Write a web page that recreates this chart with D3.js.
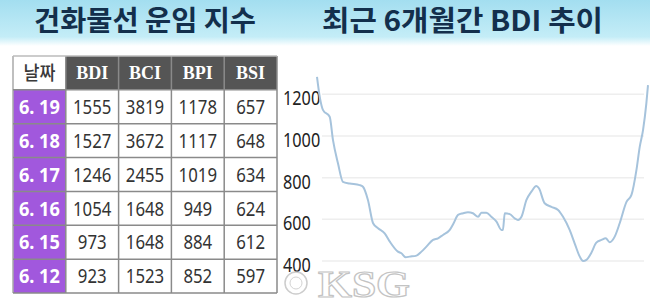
<!DOCTYPE html>
<meta charset="utf-8">
<style>
  body { margin: 0; background: #fff; }
  .title { font: 700 28px "Noto Sans CJK KR", sans-serif; fill: #132f4c; }
  .cell-num { font: 400 20px "Noto Sans", sans-serif; fill: #333; }
  .cell-date { font: 700 20px "Noto Sans", sans-serif; fill: #fff; }
  .cell-head { font: 700 18px "Liberation Serif", serif; fill: #fff; }
  .axis-label { font: 400 20px "Noto Sans", sans-serif; fill: #222; }
  .grid { stroke: #eeeeee; stroke-width: 1.5px; }
  .lineTest { fill: none; stroke: #a6c3dc; stroke-width: 2px; }
</style>
<svg width="650" height="302"></svg>
<script src="https://d3js.org/d3.v7.min.js"></script>
<script>

  // table data
  var columns = ["날짜", "BDI", "BCI", "BPI", "BSI"];
  var dates = ["6. 19", "6. 18", "6. 17", "6. 16", "6. 15", "6. 12"];
  var bdi = [1555, 1527, 1246, 1054, 973, 923];
  var bci = [3819, 3672, 2455, 1648, 1648, 1523];
  var bpi = [1178, 1117, 1019, 949, 884, 852];
  var bsi = [657, 648, 634, 624, 612, 597];

  // 6 month BDI line (day offset, value)
  var days = [0, 1.5, 3.3, 6.9, 8.7, 11.4, 14.1, 17.8, 23.2, 25, 27.7, 30.5, 33.2, 36.8, 39.6,
    44, 45.9, 48.2, 50.4, 54.1, 56.8, 59.5, 63.1, 65.8, 68.5, 72.2, 74.3, 76.7, 79.4, 82.1,
    84.8, 87.6, 89.4, 92.1, 94.8, 97.6, 100.3, 101.1, 102.1, 104.8, 107.5, 109.3, 111.2,
    113.9, 116.6, 119.3, 120.7, 123.8, 127.5, 131.1, 133.8, 137.4, 140.1, 142.9, 144.7,
    146.5, 149.2, 151.9, 154.7, 157, 159.2, 161.9, 164.6, 168.3, 171, 173.7, 175.5, 177.3,
    179.1, 180];
  var bdiTrend = [1284, 1188, 1124, 1092, 980, 869, 780, 772, 764, 756, 693, 581, 557, 533, 493,
    445, 437, 418, 421, 426, 445, 469, 501, 509, 525, 549, 581, 621, 629, 634,
    629, 612, 632, 632, 612, 589, 549, 549, 629, 625, 605, 597, 612,
    693, 733, 760, 749, 677, 660, 645, 612, 549, 485, 421, 400,
    405, 440, 488, 501, 509, 490, 517, 581, 684, 717, 836, 948, 1028,
    1156, 1244];
  var yTicks = [400, 600, 800, 1000, 1200];

  var svg = d3.select("svg");

  // header band
  var defs = svg.append("defs");
  var grad = defs.append("linearGradient").attr("id", "band")
    .attr("x1", 0).attr("y1", 0).attr("x2", 0).attr("y2", 1);
  grad.append("stop").attr("offset", "0%").attr("stop-color", "#a3def0");
  grad.append("stop").attr("offset", "80%").attr("stop-color", "#c4edf7");
  grad.append("stop").attr("offset", "100%").attr("stop-color", "#ffffff");
  svg.append("rect").attr("x", 0).attr("y", 0).attr("width", 650).attr("height", 46)
    .attr("fill", "url(#band)");

  svg.append("text").attr("class", "title")
    .attr("x", 34).attr("y", 31)
    .attr("textLength", 222).attr("lengthAdjust", "spacingAndGlyphs")
    .text("건화물선 운임 지수");
  svg.append("text").attr("class", "title")
    .attr("x", 322).attr("y", 31)
    .attr("textLength", 281).attr("lengthAdjust", "spacingAndGlyphs")
    .text("최근 6개월간 BDI 추이");

  // ---- table ----
  var colX = d3.scaleBand().domain(d3.range(columns.length)).range([13, 277]);
  var rowY = d3.scaleBand().domain(d3.range(dates.length + 1)).range([56, 293]);
  var body = dates.map(function (d, i) { return [d, bdi[i], bci[i], bpi[i], bsi[i]]; });

  var tbl = svg.append("g");

  // header row
  tbl.selectAll(".hcell")
    .data(columns)
    .enter().append("rect")
    .attr("x", function (d, i) { return colX(i); })
    .attr("y", rowY(0))
    .attr("width", colX.bandwidth())
    .attr("height", rowY.bandwidth())
    .attr("fill", function (d, i) { return i === 0 ? "#fff" : "#555"; });

  tbl.selectAll(".htext")
    .data(columns)
    .enter().append("text")
    .attr("class", function (d, i) { return i === 0 ? "cell-num" : "cell-head"; })
    .attr("x", function (d, i) { return colX(i) + colX.bandwidth() / 2; })
    .attr("y", rowY(0) + rowY.bandwidth() / 2)
    .attr("dy", ".35em")
    .attr("text-anchor", "middle")
    .attr("textLength", function (d, i) { return i === 0 ? 32 : null; })
    .attr("lengthAdjust", "spacingAndGlyphs")
    .style("font-family", function (d, i) { return i === 0 ? "'Noto Sans CJK KR', sans-serif" : null; })
    .style("font-size", function (d, i) { return i === 0 ? "19px" : null; })
    .style("font-weight", function (d, i) { return i === 0 ? 500 : null; })
    .style("fill", function (d, i) { return i === 0 ? "#3a3a3a" : null; })
    .text(function (d) { return d; });

  // body rows
  var rows = tbl.selectAll(".row")
    .data(body)
    .enter().append("g")
    .attr("transform", function (d, i) { return "translate(0," + rowY(i + 1) + ")"; });

  rows.selectAll("rect")
    .data(function (d) { return d; })
    .enter().append("rect")
    .attr("x", function (d, i) { return colX(i); })
    .attr("width", colX.bandwidth())
    .attr("height", rowY.bandwidth())
    .attr("fill", function (d, i) { return i === 0 ? "#a158dd" : "#fff"; });

  rows.selectAll("text")
    .data(function (d) { return d; })
    .enter().append("text")
    .attr("class", function (d, i) { return i === 0 ? "cell-date" : "cell-num"; })
    .attr("x", function (d, i) { return colX(i) + colX.bandwidth() / 2; })
    .attr("y", rowY.bandwidth() / 2)
    .attr("dy", ".36em")
    .attr("text-anchor", "middle")
    .attr("textLength", function (d) { return String(d).length * (String(d).length > 4 ? 8.2 : 9.6); })
    .attr("lengthAdjust", "spacingAndGlyphs")
    .text(function (d) { return d; });

  // grid lines of the table
  var gridColor = "#8a8a8a";
  tbl.selectAll(".vline")
    .data(d3.range(columns.length + 1))
    .enter().append("line")
    .attr("x1", function (i) { return i < columns.length ? colX(i) : 277; })
    .attr("x2", function (i) { return i < columns.length ? colX(i) : 277; })
    .attr("y1", 56).attr("y2", 293)
    .attr("stroke", function (i) { return (i === 0) ? "#aaa" : gridColor; })
    .attr("stroke-width", 1.5);
  tbl.selectAll(".hline")
    .data(d3.range(dates.length + 2))
    .enter().append("line")
    .attr("x1", 13).attr("x2", 277)
    .attr("y1", function (i) { return i <= dates.length ? rowY(i) : 293; })
    .attr("y2", function (i) { return i <= dates.length ? rowY(i) : 293; })
    .attr("stroke", function (i) { return i === 0 ? "#bbb" : gridColor; })
    .attr("stroke-width", 1.5);

  // ---- line chart ----
  var x = d3.scaleLinear().domain([0, 180]).range([317, 648]);
  var y = d3.scaleLinear().domain([400, 1200]).range([261, 94.3]);

  var chart = svg.append("g");

  chart.selectAll(".grid")
    .data(yTicks)
    .enter().append("line")
    .attr("class", "grid")
    .attr("x1", 322).attr("x2", 644)
    .attr("y1", function (d) { return y(d); })
    .attr("y2", function (d) { return y(d); });

  chart.selectAll(".axis-label")
    .data(yTicks)
    .enter().append("text")
    .attr("class", "axis-label")
    .attr("x", 283)
    .attr("y", function (d) { return y(d) + 11; })
    .attr("textLength", function (d) { return String(d).length * 9.3; })
    .attr("lengthAdjust", "spacingAndGlyphs")
    .text(function (d) { return d; });

  var line = d3.line()
    .x(function (d, i) { return x(days[i]); })
    .y(function (d) { return y(d); })
    .curve(d3.curveMonotoneX);

  chart.append("path")
    .datum(bdiTrend)
    .attr("class", "lineTest")
    .attr("d", line);

  // watermark (logo mark drawn as shapes, name as text)
  var wm = svg.append("g").attr("opacity", 0.9);
  wm.append("circle").attr("cx", 296).attr("cy", 283).attr("r", 11)
    .attr("fill", "#fff").attr("stroke", "#c8c8c8").attr("stroke-width", 1.5);
  wm.append("circle").attr("cx", 296).attr("cy", 283).attr("r", 6)
    .attr("fill", "none").attr("stroke", "#d0d0d0").attr("stroke-width", 1);
  wm.append("text").attr("x", 318).attr("y", 297)
    .attr("textLength", 92).attr("lengthAdjust", "spacingAndGlyphs")
    .style("font", "bold 38px 'Liberation Serif', serif")
    .style("fill", "#fff").style("stroke", "#bdbdbd").style("stroke-width", 1.2)
    .text("KSG");

</script>
